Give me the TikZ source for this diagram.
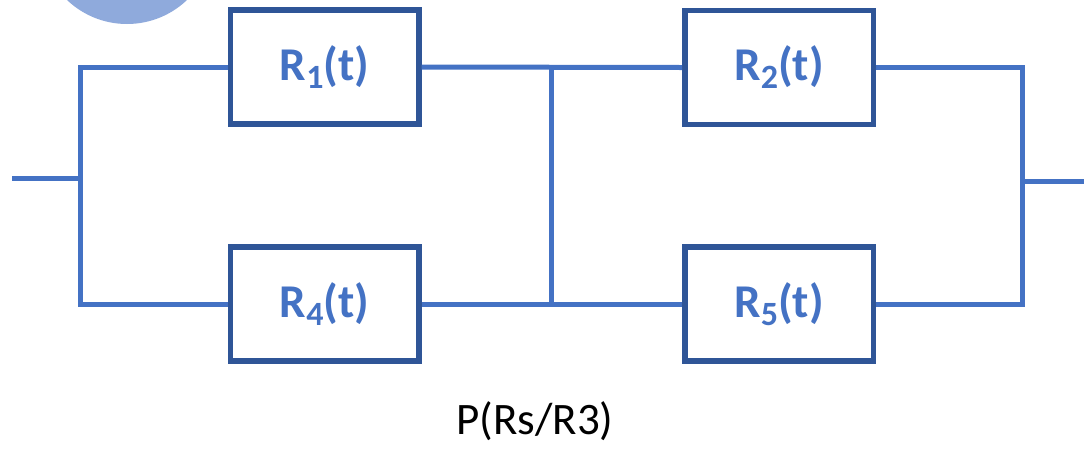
\documentclass[tikz,border=0pt]{standalone}
\usepackage{fontspec}
\setmainfont{Carlito}
\definecolor{wireblue}{HTML}{4472C4}
\definecolor{boxblue}{HTML}{2F5597}
\definecolor{discblue}{HTML}{8FAADC}
\newcommand{\rel}[1]{R\raisebox{-0.17em}{\fontsize{34}{34}\selectfont #1}(t)}
\tikzset{
  wire/.style={draw=wireblue, line width=5pt},
  relbox/.style={draw=boxblue, line width=5.5pt, fill=white,
    minimum width=188.5pt, minimum height=114pt, inner sep=0pt,
    text=wireblue, font=\fontsize{47}{47}\selectfont\bfseries},
  caption/.style={font=\fontsize{45}{45}\selectfont, text=black, inner sep=0pt}
}
\begin{document}
\begin{tikzpicture}[x=1pt, y=-1pt]
  \useasboundingbox (0,0) rectangle (1084,448);
  \clip (0,0) rectangle (1084,448);

  % partial disc at the top edge
  \fill[discblue] (127,-63) circle (87);

  % junction points of the network
  \coordinate (in)  at (12,178);
  \coordinate (jl)  at (80,178);
  \coordinate (jm)  at (551,178);
  \coordinate (jr)  at (1022,181);
  \coordinate (out) at (1084,181);

  % reliability blocks
  \node[relbox] (R1) at (324.5,67)  {\rel{1}};
  \node[relbox] (R4) at (324.5,304) {\rel{4}};
  \node[relbox] (R2) at (779,67.5)  {\rel{2}};
  \node[relbox] (R5) at (779,304)   {\rel{5}};

  % wiring
  \draw[wire] (in) -- (jl);
  \draw[wire] (R1.west) -- (R1.west -| jl) -- (R4.west -| jl) -- (R4.west);
  \draw[wire] (R1.east) -- (R2.west);
  \draw[wire] (R4.east) -- (R5.west);
  \draw[wire] (R1.east -| jm) -- (R4.east -| jm);
  \draw[wire] (R2.east) -- (R2.east -| jr) -- (R5.east -| jr) -- (R5.east);
  \draw[wire] (jr) -- (out);

  % caption
  \node[caption, anchor=base] (cap) at (535,434) {P(Rs/R3)};
\end{tikzpicture}
\end{document}
